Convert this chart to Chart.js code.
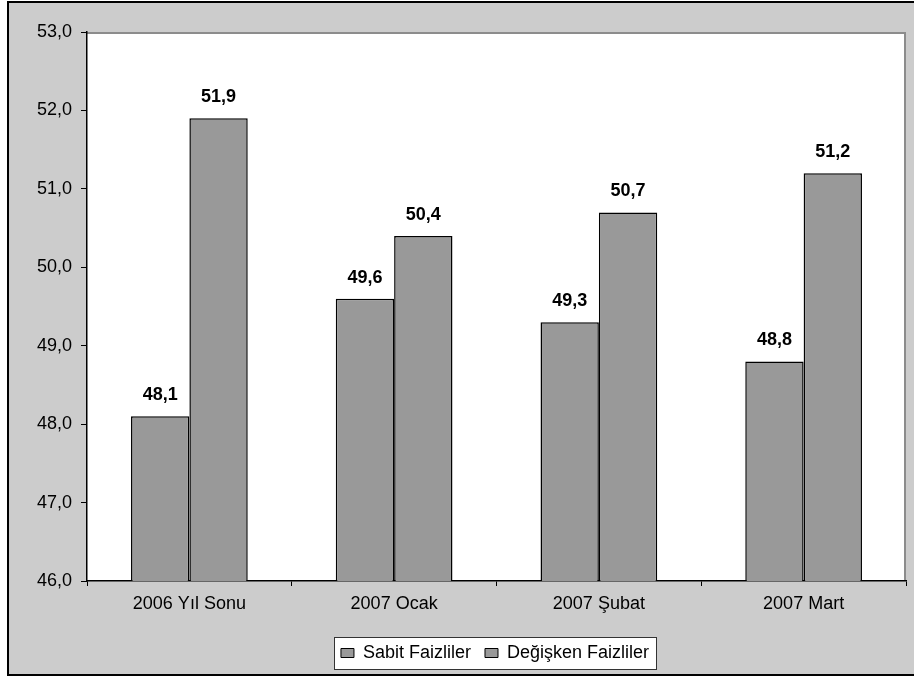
<!DOCTYPE html>
<html>
<head>
<meta charset="utf-8">
<title>Sabit ve Değişken Faizli Borç Payı</title>
<script src="https://cdn.jsdelivr.net/npm/chart.js@4/dist/chart.umd.min.js"></script>
<style>
  html, body { margin: 0; padding: 0; background: #ffffff; }
  #wrap { position: relative; width: 914px; height: 678px; }
</style>
</head>
<body>
<div id="wrap"><canvas id="c" width="914" height="678"></canvas></div>
<script>
// Periods and shares (%) of fixed- and floating-rate debt
const categories = ['2006 Yıl Sonu', '2007 Ocak', '2007 Şubat', '2007 Mart'];
const sabitFaizliler = [48.1, 49.6, 49.3, 48.8];
const degiskenFaizliler = [51.9, 50.4, 50.7, 51.2];
const seriesNames = ['Sabit Faizliler', 'Değişken Faizliler'];
const yMin = 46, yMax = 53, yStep = 1;

const FONT = "'Liberation Sans', Arial, sans-serif";
const fmt = v => v.toFixed(1).replace('.', ',');
const LEGEND_SHIFT = 38; // legend sits a little right of centre

// Nudge the legend sideways (drawing and hit boxes together)
const legendShift = {
  id: 'legendShift',
  afterUpdate(chart) {
    const lg = chart.legend;
    if (!lg) return;
    lg.left += LEGEND_SHIFT;
    lg.right += LEGEND_SHIFT;
    (lg.legendHitBoxes || []).forEach(b => { b.left += LEGEND_SHIFT; });
  }
};

// Grey frame with black outline, white plot area with grey top/right edge,
// and the white legend panel
const framePlugin = {
  id: 'frame',
  beforeDraw(chart) {
    const ctx = chart.ctx;
    const a = chart.chartArea;
    ctx.save();
    ctx.fillStyle = '#ffffff';
    ctx.fillRect(0, 0, chart.width, chart.height);
    ctx.fillStyle = '#cccccc';
    ctx.fillRect(7, 1, chart.width - 7, 675);
    ctx.strokeStyle = '#000000';
    ctx.lineWidth = 2;
    ctx.beginPath();
    ctx.moveTo(chart.width + 2, 2);
    ctx.lineTo(8, 2);
    ctx.lineTo(8, 675);
    ctx.lineTo(chart.width + 2, 675);
    ctx.stroke();

    ctx.fillStyle = '#ffffff';
    ctx.fillRect(a.left, a.top, a.right - a.left, a.bottom - a.top);
    ctx.strokeStyle = '#8c8c8c';
    ctx.lineWidth = 2;
    ctx.beginPath();
    ctx.moveTo(a.left, a.top + 1);
    ctx.lineTo(a.right - 1, a.top + 1);
    ctx.lineTo(a.right - 1, a.bottom);
    ctx.stroke();

    const lg = chart.legend;
    if (lg && lg.legendHitBoxes && lg.legendHitBoxes.length) {
      const hb = lg.legendHitBoxes;
      const l = Math.min(...hb.map(b => b.left)) - 7;
      const r = Math.max(...hb.map(b => b.left + b.width)) + 7;
      const cy = hb[0].top + hb[0].height / 2;
      ctx.fillStyle = '#ffffff';
      ctx.fillRect(l, cy - 16, r - l, 32);
      ctx.strokeStyle = '#333333';
      ctx.lineWidth = 1;
      ctx.strokeRect(Math.round(l) + 0.5, Math.round(cy - 16) + 0.5, Math.round(r - l), 32);
    }
    ctx.restore();
  }
};

// Value labels above every bar
const valueLabels = {
  id: 'valueLabels',
  afterDatasetsDraw(chart) {
    const ctx = chart.ctx;
    ctx.save();
    ctx.font = 'bold 18px ' + FONT;
    ctx.fillStyle = '#000000';
    ctx.textAlign = 'center';
    ctx.textBaseline = 'bottom';
    chart.data.datasets.forEach((ds, i) => {
      chart.getDatasetMeta(i).data.forEach((bar, j) => {
        ctx.fillText(fmt(ds.data[j]), bar.x, bar.y - 12);
      });
    });
    ctx.restore();
  }
};

new Chart(document.getElementById('c'), {
  type: 'bar',
  data: {
    labels: categories,
    datasets: [
      { label: seriesNames[0], data: sabitFaizliler, backgroundColor: '#999999', borderColor: '#000000', borderWidth: 1.5 },
      { label: seriesNames[1], data: degiskenFaizliler, backgroundColor: '#999999', borderColor: '#000000', borderWidth: 1.5 }
    ]
  },
  options: {
    responsive: false,
    animation: false,
    devicePixelRatio: 1,
    layout: { padding: { left: 8, top: 32, right: 8, bottom: 6 } },
    datasets: { bar: { barPercentage: 1, categoryPercentage: 0.57 } },
    scales: {
      x: {
        offset: true,
        grid: { offset: true, drawOnChartArea: false, drawTicks: true, tickLength: 5, color: '#000000', lineWidth: 1 },
        border: { display: true, color: '#000000', width: 1.5 },
        ticks: { color: '#000000', font: { family: FONT, size: 18 }, padding: 7 },
        afterFit(scale) { scale.height = 49; }
      },
      y: {
        min: yMin, max: yMax,
        grid: { drawOnChartArea: false, drawTicks: true, tickLength: 6, color: '#000000', lineWidth: 1 },
        border: { display: true, color: '#000000', width: 1.5 },
        ticks: { stepSize: yStep, color: '#000000', font: { family: FONT, size: 18 }, padding: 9, callback: v => fmt(v) },
        afterFit(scale) { scale.width = 79; }
      }
    },
    plugins: {
      tooltip: { enabled: false },
      legend: {
        position: 'bottom',
        labels: {
          color: '#000000',
          font: { family: FONT, size: 18 },
          boxWidth: 13, boxHeight: 9,
          padding: 14,
          generateLabels(chart) {
            return chart.data.datasets.map((ds, i) => ({
              text: ds.label, fillStyle: '#999999', strokeStyle: '#000000', lineWidth: 1,
              hidden: false, datasetIndex: i, fontColor: '#000000'
            }));
          }
        }
      }
    }
  },
  plugins: [legendShift, framePlugin, valueLabels]
});
</script>
</body>
</html>
